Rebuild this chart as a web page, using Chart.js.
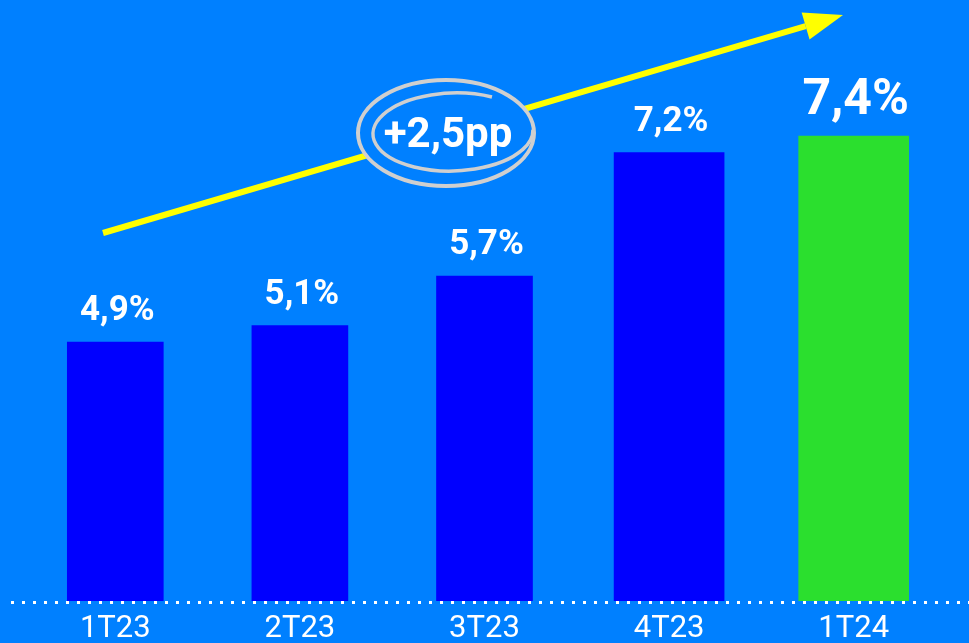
<!DOCTYPE html>
<html>
<head>
<meta charset="utf-8">
<script src="https://cdn.jsdelivr.net/npm/chart.js@4/dist/chart.umd.min.js"></script>
<style>
  html, body { margin: 0; padding: 0; background: #0080FF; overflow: hidden; }
  canvas { display: block; }
</style>
</head>
<body>
<canvas id="rate-chart" width="969" height="643"></canvas>
<script>
// quarters and rate (%)
const categories = ['1T23', '2T23', '3T23', '4T23', '1T24'];
const rateValues = [4.9, 5.1, 5.7, 7.2, 7.4];
const valueLabels = ['4,9%', '5,1%', '5,7%', '7,2%', '7,4%'];
// first three bars are narrower than the last two
const narrowBars = [4.9, 5.1, 5.7, null, null];
const wideBars = [null, null, null, 7.2, 7.4];
const wideColors = ['#0000FF', '#0000FF', '#0000FF', '#0000FF', '#2BDF2E'];
const highlightIndex = 4;
const changeLabel = '+2,5pp';

const FONT = 'Roboto, "Open Sans", sans-serif';

const baselinePlugin = {
    id: 'dotted-baseline',
    beforeDatasetsDraw: (chart) => {
        const ctx = chart.ctx;
        const yScale = chart.scales.y;
        let y = yScale.getPixelForValue(yScale.min) + 1.5;
        ctx.save();
        ctx.strokeStyle = '#FFFFFF';
        ctx.lineWidth = 3;
        ctx.setLineDash([3, 8]);
        ctx.beginPath();
        ctx.moveTo(11, y);
        ctx.lineTo(chart.width, y);
        ctx.stroke();
        ctx.restore();
    }
};

const valueLabelPlugin = {
    id: 'value-labels',
    afterDatasetsDraw: (chart) => {
        const ctx = chart.ctx;
        ctx.save();
        ctx.fillStyle = '#FFFFFF';
        ctx.textAlign = 'center';
        ctx.textBaseline = 'alphabetic';
        chart.data.datasets.forEach((ds, di) => {
            const meta = chart.getDatasetMeta(di);
            meta.data.forEach((bar, i) => {
                if (ds.data[i] === null) return;
                let size = i === highlightIndex ? 50 : 35;
                ctx.font = 'bold ' + size + 'px ' + FONT;
                ctx.fillText(valueLabels[i], bar.x + 2, bar.y - 22);
            });
        });
        ctx.restore();
    }
};

const trendPlugin = {
    id: 'trend-arrow',
    afterDraw: (chart) => {
        const ctx = chart.ctx;
        ctx.save();
        // yellow arrow
        const x0 = 103, y0 = 233, x1 = 843, y1 = 15;
        const ang = Math.atan2(y1 - y0, x1 - x0);
        const headLen = 39, headHalf = 14;
        const bx = x1 - headLen * Math.cos(ang);
        const by = y1 - headLen * Math.sin(ang);
        ctx.strokeStyle = '#FFFF00';
        ctx.fillStyle = '#FFFF00';
        ctx.lineWidth = 6;
        ctx.beginPath();
        ctx.moveTo(x0, y0);
        ctx.lineTo(bx, by);
        ctx.stroke();
        ctx.beginPath();
        ctx.moveTo(x1, y1);
        ctx.lineTo(bx - headHalf * Math.sin(ang), by + headHalf * Math.cos(ang));
        ctx.lineTo(bx + headHalf * Math.sin(ang), by - headHalf * Math.cos(ang));
        ctx.closePath();
        ctx.fill();

        // hand drawn loop around the label
        ctx.fillStyle = '#0080FF';
        ctx.beginPath();
        ctx.ellipse(446, 133, 88, 53, 0, 0, Math.PI * 2);
        ctx.fill();
        ctx.strokeStyle = '#CFCFCF';
        ctx.lineWidth = 4;
        ctx.beginPath();
        ctx.ellipse(446, 133, 88, 53, 0, 0, Math.PI * 2);
        ctx.stroke();
        ctx.lineWidth = 3.5;
        ctx.beginPath();
        ctx.ellipse(453, 132, 80, 39, -0.03, -Math.PI / 3, 0, true);
        ctx.stroke();

        ctx.fillStyle = '#FFFFFF';
        ctx.font = 'bold 42px ' + FONT;
        ctx.textAlign = 'center';
        ctx.textBaseline = 'alphabetic';
        ctx.fillText(changeLabel, 448, 147);
        ctx.restore();
    }
};

new Chart(document.getElementById('rate-chart'), {
    type: 'bar',
    data: {
        labels: categories,
        datasets: [{
            data: narrowBars,
            backgroundColor: '#0000FF',
            barThickness: 96,
            grouped: false
        }, {
            data: wideBars,
            backgroundColor: wideColors,
            barThickness: 110,
            grouped: false
        }]
    },
    options: {
        responsive: false,
        animation: false,
        layout: {
            padding: {left: 23, right: 23, top: 0, bottom: 0}
        },
        plugins: {
            legend: {display: false},
            tooltip: {enabled: false}
        },
        scales: {
            x: {
                grid: {display: false, drawTicks: false},
                border: {display: false},
                ticks: {
                    color: '#FFFFFF',
                    padding: 10,
                    font: {family: FONT, size: 31}
                },
                afterFit: (scale) => {
                    scale.height = 42
                }
            },
            y: {
                display: false,
                min: 1.76,
                max: 9.05
            }
        }
    },
    plugins: [baselinePlugin, valueLabelPlugin, trendPlugin]
});
</script>
</body>
</html>
